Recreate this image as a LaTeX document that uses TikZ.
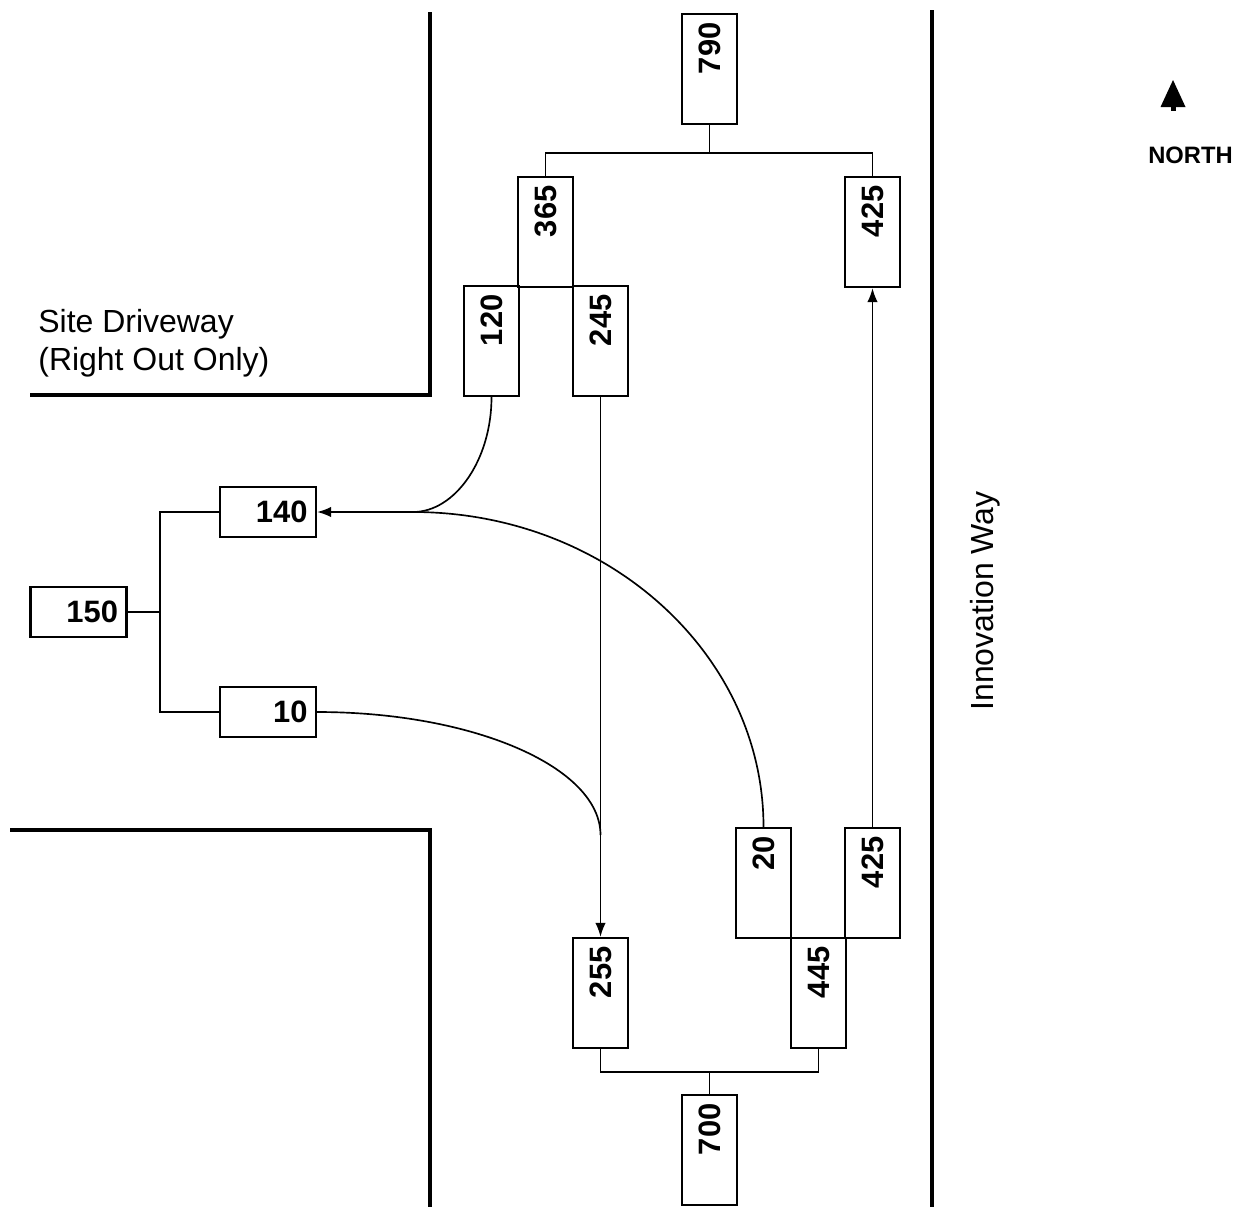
\documentclass[tikz,border=0pt]{standalone}
\usepackage{fontspec}
\setmainfont{Liberation Sans}
\usetikzlibrary{arrows.meta}
\begin{document}
\begin{tikzpicture}[x=0.02cm,y=-0.02cm,
  vol/.style={draw,line width=1.3pt,rotate=90,minimum height=1.1cm,minimum width=2.2cm,
    text width=1.86cm,inner xsep=0.17cm,inner ysep=0pt,align=right,font=\fontsize{17.6}{20}\selectfont\bfseries},
  hvol/.style={draw,line width=1.3pt,minimum height=1.0cm,minimum width=1.92cm,
    text width=1.58cm,inner xsep=0.17cm,inner ysep=0pt,align=right,font=\fontsize{17.6}{20}\selectfont\bfseries},
  link/.style={line width=0.95pt},
  flow/.style={line width=0.95pt,-{Latex[length=8pt,width=6pt]}},
  road/.style={line width=1.9pt},
  every node/.style={font=\fontsize{18.2}{21.6}\selectfont}]
  \useasboundingbox (0,0) rectangle (1239,1207);
  \draw[road] (430,12)--(430,395)--(30,395);
  \draw[road] (10,830)--(430,830)--(430,1207);
  \draw[road] (932,10)--(932,1207);
  \node[anchor=north west,align=left,inner sep=0] (drive) at (38,309) {Site Driveway\\(Right Out Only)};
  \node[rotate=90,anchor=base] (innov) at (993,601) {Innovation Way};
  \fill (1173,80)--(1185.5,107)--(1160.5,107)--cycle;
  \fill (1170.5,106)rectangle(1175.5,111);
  \node[anchor=base,font=\fontsize{13.5}{16}\selectfont\bfseries] (north) at (1190.5,163) {NORTH};
  \node[vol] (n790) at (709.5,69) {790};
  \node[vol] (n365) at (545.5,232) {365};
  \node[vol] (n425n) at (872.5,232) {425};
  \node[vol] (n120) at (491.5,341) {120};
  \node[vol] (n245) at (600.5,341) {245};
  \node[vol] (n20) at (763.5,883) {20};
  \node[vol] (n425s) at (872.5,883) {425};
  \node[vol] (n255) at (600.5,993) {255};
  \node[vol] (n445) at (818.5,993) {445};
  \node[vol] (n700) at (709.5,1150) {700};
  \node[hvol] (n140) at (268,512) {140};
  \node[hvol] (n150) at (78.5,612) {150};
  \node[hvol] (n10) at (268,712) {10};
  \coordinate (nsplit) at (709.5,153);
  \coordinate (ssplit) at (709.5,1072);
  \coordinate (wsplit) at (160,612);
  \coordinate (wmerge) at (413,512);
  \coordinate (smerge) at (600.5,835);
  \draw[link] (n790.west)--(nsplit);
  \draw[link] (n365.east) |- (nsplit) -| (n425n.east);
  \draw[link] (n700.east)--(ssplit);
  \draw[link] (n255.west) |- (ssplit) -| (n445.west);
  \draw[link] (n150.east)--(wsplit);
  \draw[link] (n140.west) -| (wsplit) |- (n10.west);
  \draw[flow] (n425s.east)--(n425n.west);
  \draw[flow] (n245.west)--(n255.east);
  \draw[link] (n120.west) .. controls (491.5,460) and (455,512) .. (wmerge);
  \draw[flow] (n20.east) .. controls (763.5,654) and (607,512) .. (wmerge)--(n140.east);
  \draw[link] (n10.east) .. controls (473,712) and (600.5,767) .. (smerge);
\end{tikzpicture}
\end{document}
